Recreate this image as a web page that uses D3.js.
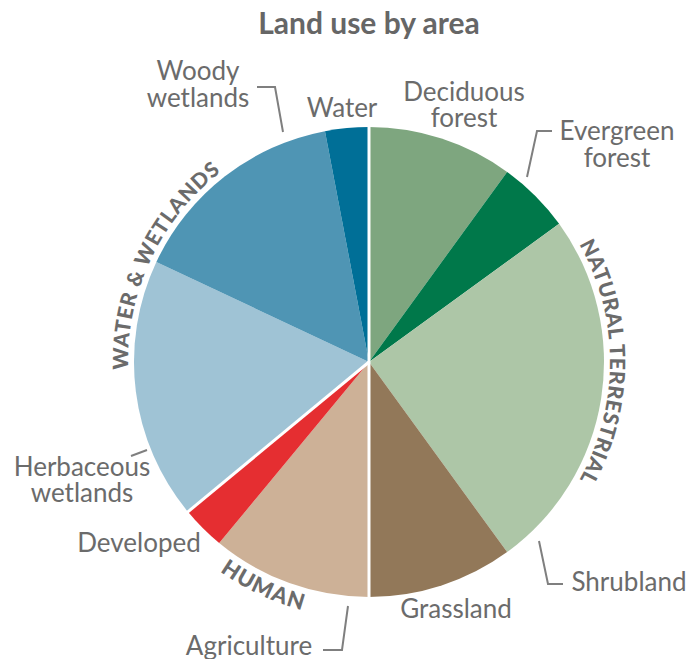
<!DOCTYPE html>
<html><head><meta charset="utf-8">
<script src="https://cdn.jsdelivr.net/npm/d3@7"></script>
<style>html,body{margin:0;padding:0;background:#fff}svg{display:block}</style>
</head><body>
<svg id="chart" width="693" height="659"></svg>
<script>
// ---- data ----
const categories = ["Deciduous forest","Evergreen forest","Shrubland","Grassland","Agriculture","Developed","Herbaceous wetlands","Woody wetlands","Water"];
const values = [10, 5, 25, 10, 11, 3, 18, 15, 3];
const groups = ["NATURAL TERRESTRIAL","NATURAL TERRESTRIAL","NATURAL TERRESTRIAL","NATURAL TERRESTRIAL","HUMAN","HUMAN","WATER & WETLANDS","WATER & WETLANDS","WATER & WETLANDS"];
const colors = ["#7ea67f","#00784a","#adc6a7","#927859","#cdb197","#e52e31","#9fc3d5","#4f95b4","#006f97"];
const title = "Land use by area";

// ---- layout (positions / styles) ----
const W = 693, H = 659, cx = 369, cy = 362, R = 235;
const FONT = "Lato, 'Open Sans', sans-serif";
const TXT = "#6b6b6b";
const labelLayout = {
  "Deciduous forest":    {lines:["Deciduous","forest"], x:464, y:[101,127]},
  "Evergreen forest":    {lines:["Evergreen","forest"], x:617, y:[140,167]},
  "Shrubland":           {lines:["Shrubland"], x:629, y:[591]},
  "Grassland":           {lines:["Grassland"], x:456, y:[618]},
  "Agriculture":         {lines:["Agriculture"], x:249, y:[655]},
  "Developed":           {lines:["Developed"], x:139, y:[552]},
  "Herbaceous wetlands": {lines:["Herbaceous","wetlands"], x:82, y:[476,502]},
  "Woody wetlands":      {lines:["Woody","wetlands"], x:198, y:[80,107]},
  "Water":               {lines:["Water"], x:342, y:[117]}
};
const leaders = {
  "Woody wetlands":   [[257,87],[275,87],[283,132]],
  "Evergreen forest": [[552,131],[537,131],[527,177]],
  "Shrubland":        [[539,541],[548,584],[563,584]],
  "Agriculture":      [[348,606],[342,650],[323,650]],
  "Herbaceous wetlands": [[131,456],[147,450]]
};
const groupLayout = {
  "NATURAL TERRESTRIAL": {r:241, dir:1, offset:"50%", size:21, ls:0.6},
  "WATER & WETLANDS":    {r:241, dir:1, offset:"50%", size:21, ls:0.8},
  "HUMAN":               {r:257, dir:-1, offset:"50%", size:22, ls:1.0}
};

const svg = d3.select("#chart");
svg.append("text").attr("x", cx).attr("y", 34).attr("text-anchor","middle")
  .attr("font-family", FONT).attr("font-weight","bold").attr("font-size", 30)
  .attr("fill", "#666").text(title);

const data = categories.map((c,i)=>({name:c, value:values[i], group:groups[i], color:colors[i]}));
const pie = d3.pie().sort(null).value(d=>d.value).startAngle(0).endAngle(2*Math.PI);
const arcs = pie(data);
const arc = d3.arc().innerRadius(0).outerRadius(R);

const g = svg.append("g").attr("transform", `translate(${cx},${cy})`);
g.selectAll("path.slice").data(arcs).join("path").attr("class","slice")
  .attr("d", arc).attr("fill", d=>d.data.color);

// group separators
const bounds = [];
arcs.forEach((a,i)=>{
  const prev = arcs[(i-1+arcs.length)%arcs.length];
  if (prev.data.group !== a.data.group) bounds.push(a.startAngle);
});
g.selectAll("line.sep").data(bounds).join("line").attr("class","sep")
  .attr("x1",0).attr("y1",0)
  .attr("x2", a=>(R+2)*Math.sin(a)).attr("y2", a=>-(R+2)*Math.cos(a))
  .attr("stroke","#fff").attr("stroke-width",3);

// group arc labels
const groupNames = Array.from(new Set(groups));
const defs = svg.append("defs");
groupNames.forEach((gn,k)=>{
  const gs = arcs.filter(a=>a.data.group===gn);
  const a0 = d3.min(gs, a=>a.startAngle), a1 = d3.max(gs, a=>a.endAngle);
  const L = groupLayout[gn];
  const pt = t => [L.r*Math.sin(t), -L.r*Math.cos(t)];
  let s, e;
  if (L.dir > 0) { s = pt(a0); e = pt(a1); }
  else { s = pt(a1); e = pt(a0); }
  const large = (a1-a0) > Math.PI ? 1 : 0;
  const d = `M${s[0]},${s[1]} A${L.r},${L.r} 0 ${large} ${L.dir>0?1:0} ${e[0]},${e[1]}`;
  defs.append("path").attr("id","gp"+k).attr("d", d);
  g.append("text").attr("font-family", FONT).attr("font-weight","900")
    .attr("font-size", L.size).attr("fill", TXT).attr("letter-spacing", L.ls)
    .append("textPath").attr("href","#gp"+k).attr("startOffset",L.offset)
    .attr("text-anchor","middle").text(gn);
});

// leader lines
const line = d3.line();
svg.selectAll("path.leader").data(Object.values(leaders)).join("path")
  .attr("class","leader").attr("d", d=>line(d))
  .attr("fill","none").attr("stroke","#7f7f7f").attr("stroke-width",2);

// slice labels
categories.forEach(c=>{
  const L = labelLayout[c];
  L.lines.forEach((t,j)=>{
    svg.append("text").attr("x", L.x).attr("y", L.y[j]).attr("text-anchor","middle")
      .attr("font-family", FONT).attr("font-size", 26).attr("fill", TXT).text(t);
  });
});
</script>
</body></html>
